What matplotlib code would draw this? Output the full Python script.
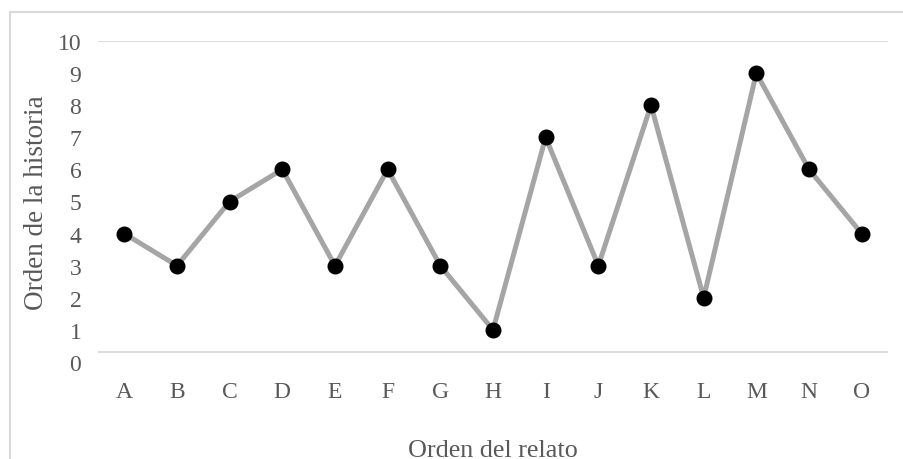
import matplotlib
matplotlib.use("Agg")
import matplotlib.pyplot as plt
from matplotlib.patches import Rectangle

categories = ["A", "B", "C", "D", "E", "F", "G", "H", "I", "J", "K", "L", "M", "N", "O"]
values = [4, 3, 5, 6, 3, 6, 3, 1, 7, 3, 8, 2, 9, 6, 4]
yticks = list(range(0, 11))

plt.rcParams['font.family'] = ['Liberation Serif', 'DejaVu Serif']
txt = '#595959'

W, H = 904, 460
fig = plt.figure(figsize=(W/100, H/100), dpi=100)
fig.patches.append(Rectangle((10/W, -0.1), 1.2, 1 - 13/H + 0.1, transform=fig.transFigure,
                             fill=False, edgecolor='#D9D9D9', linewidth=1.5))

left, right, top, bottom = 98, 888, 42, 363
ax = fig.add_axes([left/W, 1 - bottom/H, (right-left)/W, (bottom-top)/H])
x = list(range(len(categories)))
ax.plot(x, values, color='#A5A5A5', linewidth=3.6, marker='o', markersize=10.5,
        markerfacecolor='black', markeredgecolor='black', zorder=3, clip_on=False)
ax.set_xlim(-0.5, len(categories) - 0.5)
ax.set_ylim(0, 10)
ax.axhline(10, color='#D9D9D9', linewidth=1.3, zorder=1)
ax.axhline(0.31, color='#D9D9D9', linewidth=1.3, zorder=1)
for s in ax.spines.values():
    s.set_visible(False)
ax.set_yticks(yticks)
ax.set_yticklabels([str(t) for t in yticks], fontsize=17, color=txt)
ax.set_xticks(x)
ax.set_xticklabels(categories, fontsize=17, color=txt)
ax.tick_params(axis='y', length=0, pad=12)
ax.tick_params(axis='x', length=0, pad=14)
ax.set_xlabel("Orden del relato", fontsize=18.8, color=txt, labelpad=26)
ax.set_ylabel("Orden de la historia", fontsize=19.5, color=txt, labelpad=6)
fig.savefig("out.png", dpi=100)
